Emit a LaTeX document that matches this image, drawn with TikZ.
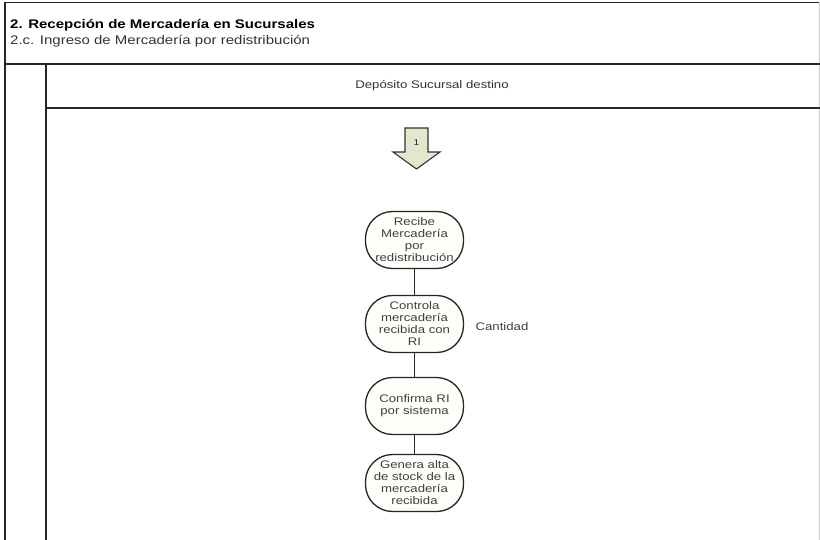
\documentclass[tikz,border=0pt]{standalone}
\usepackage{fontspec}
\setmainfont{Liberation Sans}[FakeStretch=1.2]
\definecolor{connfill}{RGB}{226,232,206}
\definecolor{actfill}{RGB}{254,254,250}
\begin{document}
\begin{tikzpicture}[x=1pt,y=-1pt,
  frame/.style={line width=1.5pt,draw=black!85},
  lightframe/.style={line width=1pt,draw=black!20},
  activity/.style={draw=black!85,line width=1.3pt,fill=actfill,rounded corners=27pt,
    minimum width=98pt,minimum height=57pt,align=center,inner sep=1pt,
    font=\fontsize{11}{12}\selectfont,text=black!75},
  flow/.style={line width=1.3pt,draw=black!85},
  offpage/.style={draw=black!80,line width=1.1pt,fill=connfill,line join=miter},
  note/.style={font=\fontsize{11}{12}\selectfont,text=black!75},
  lanehead/.style={font=\fontsize{11}{13}\selectfont,text=black!80}
]
\useasboundingbox (0,0) rectangle (820,540);
\fill[white] (0,0) rectangle (820,540);

% pool frame, title bar and lane header
\draw[frame] (5,540) -- (5,2.5) -- (819,2.5);
\draw[lightframe] (819.5,2.5) -- (819.5,540);
\draw[frame] (5,64) -- (820,64);
\draw[frame] (46,64) -- (46,540);
\draw[frame] (46,108) -- (820,108);

\node[anchor=base west,font=\fontsize{12.5}{14}\selectfont\bfseries,inner sep=0] (title) at (10,29)
  {2. Recepción de Mercadería en Sucursales};
\node[anchor=base west,font=\fontsize{12.5}{14}\selectfont,text=black!80,inner sep=0] (subtitle) at (10,45)
  {2.c. Ingreso de Mercadería por redistribución};
\node[lanehead] (lane) at (432,86) {Depósito Sucursal destino};

% off-page connector arrow
\draw[offpage] (405,128) -- (428,128) -- (428,152) -- (440,152) -- (416.5,169)
  -- (393,152) -- (405,152) -- cycle;
\node[font=\fontsize{8.5}{9}\selectfont,inner sep=0,text=black!85] (conn) at (416.5,143) {1};

% activities
\node[activity] (a1) at (414.5,240) {Recibe\\Mercadería\\por\\redistribución};
\node[activity] (a2) at (414.5,324) {Controla\\mercadería\\recibida con\\RI};
\node[activity] (a3) at (414.5,406) {Confirma RI\\por sistema};
\node[activity] (a4) at (414.5,483) {Genera alta\\de stock de la\\mercadería\\recibida};

\node[note] (qty) at (502,327) {Cantidad};

\draw[flow] (a1) -- (a2);
\draw[flow] (a2) -- (a3);
\draw[flow] (a3) -- (a4);
\end{tikzpicture}
\end{document}
